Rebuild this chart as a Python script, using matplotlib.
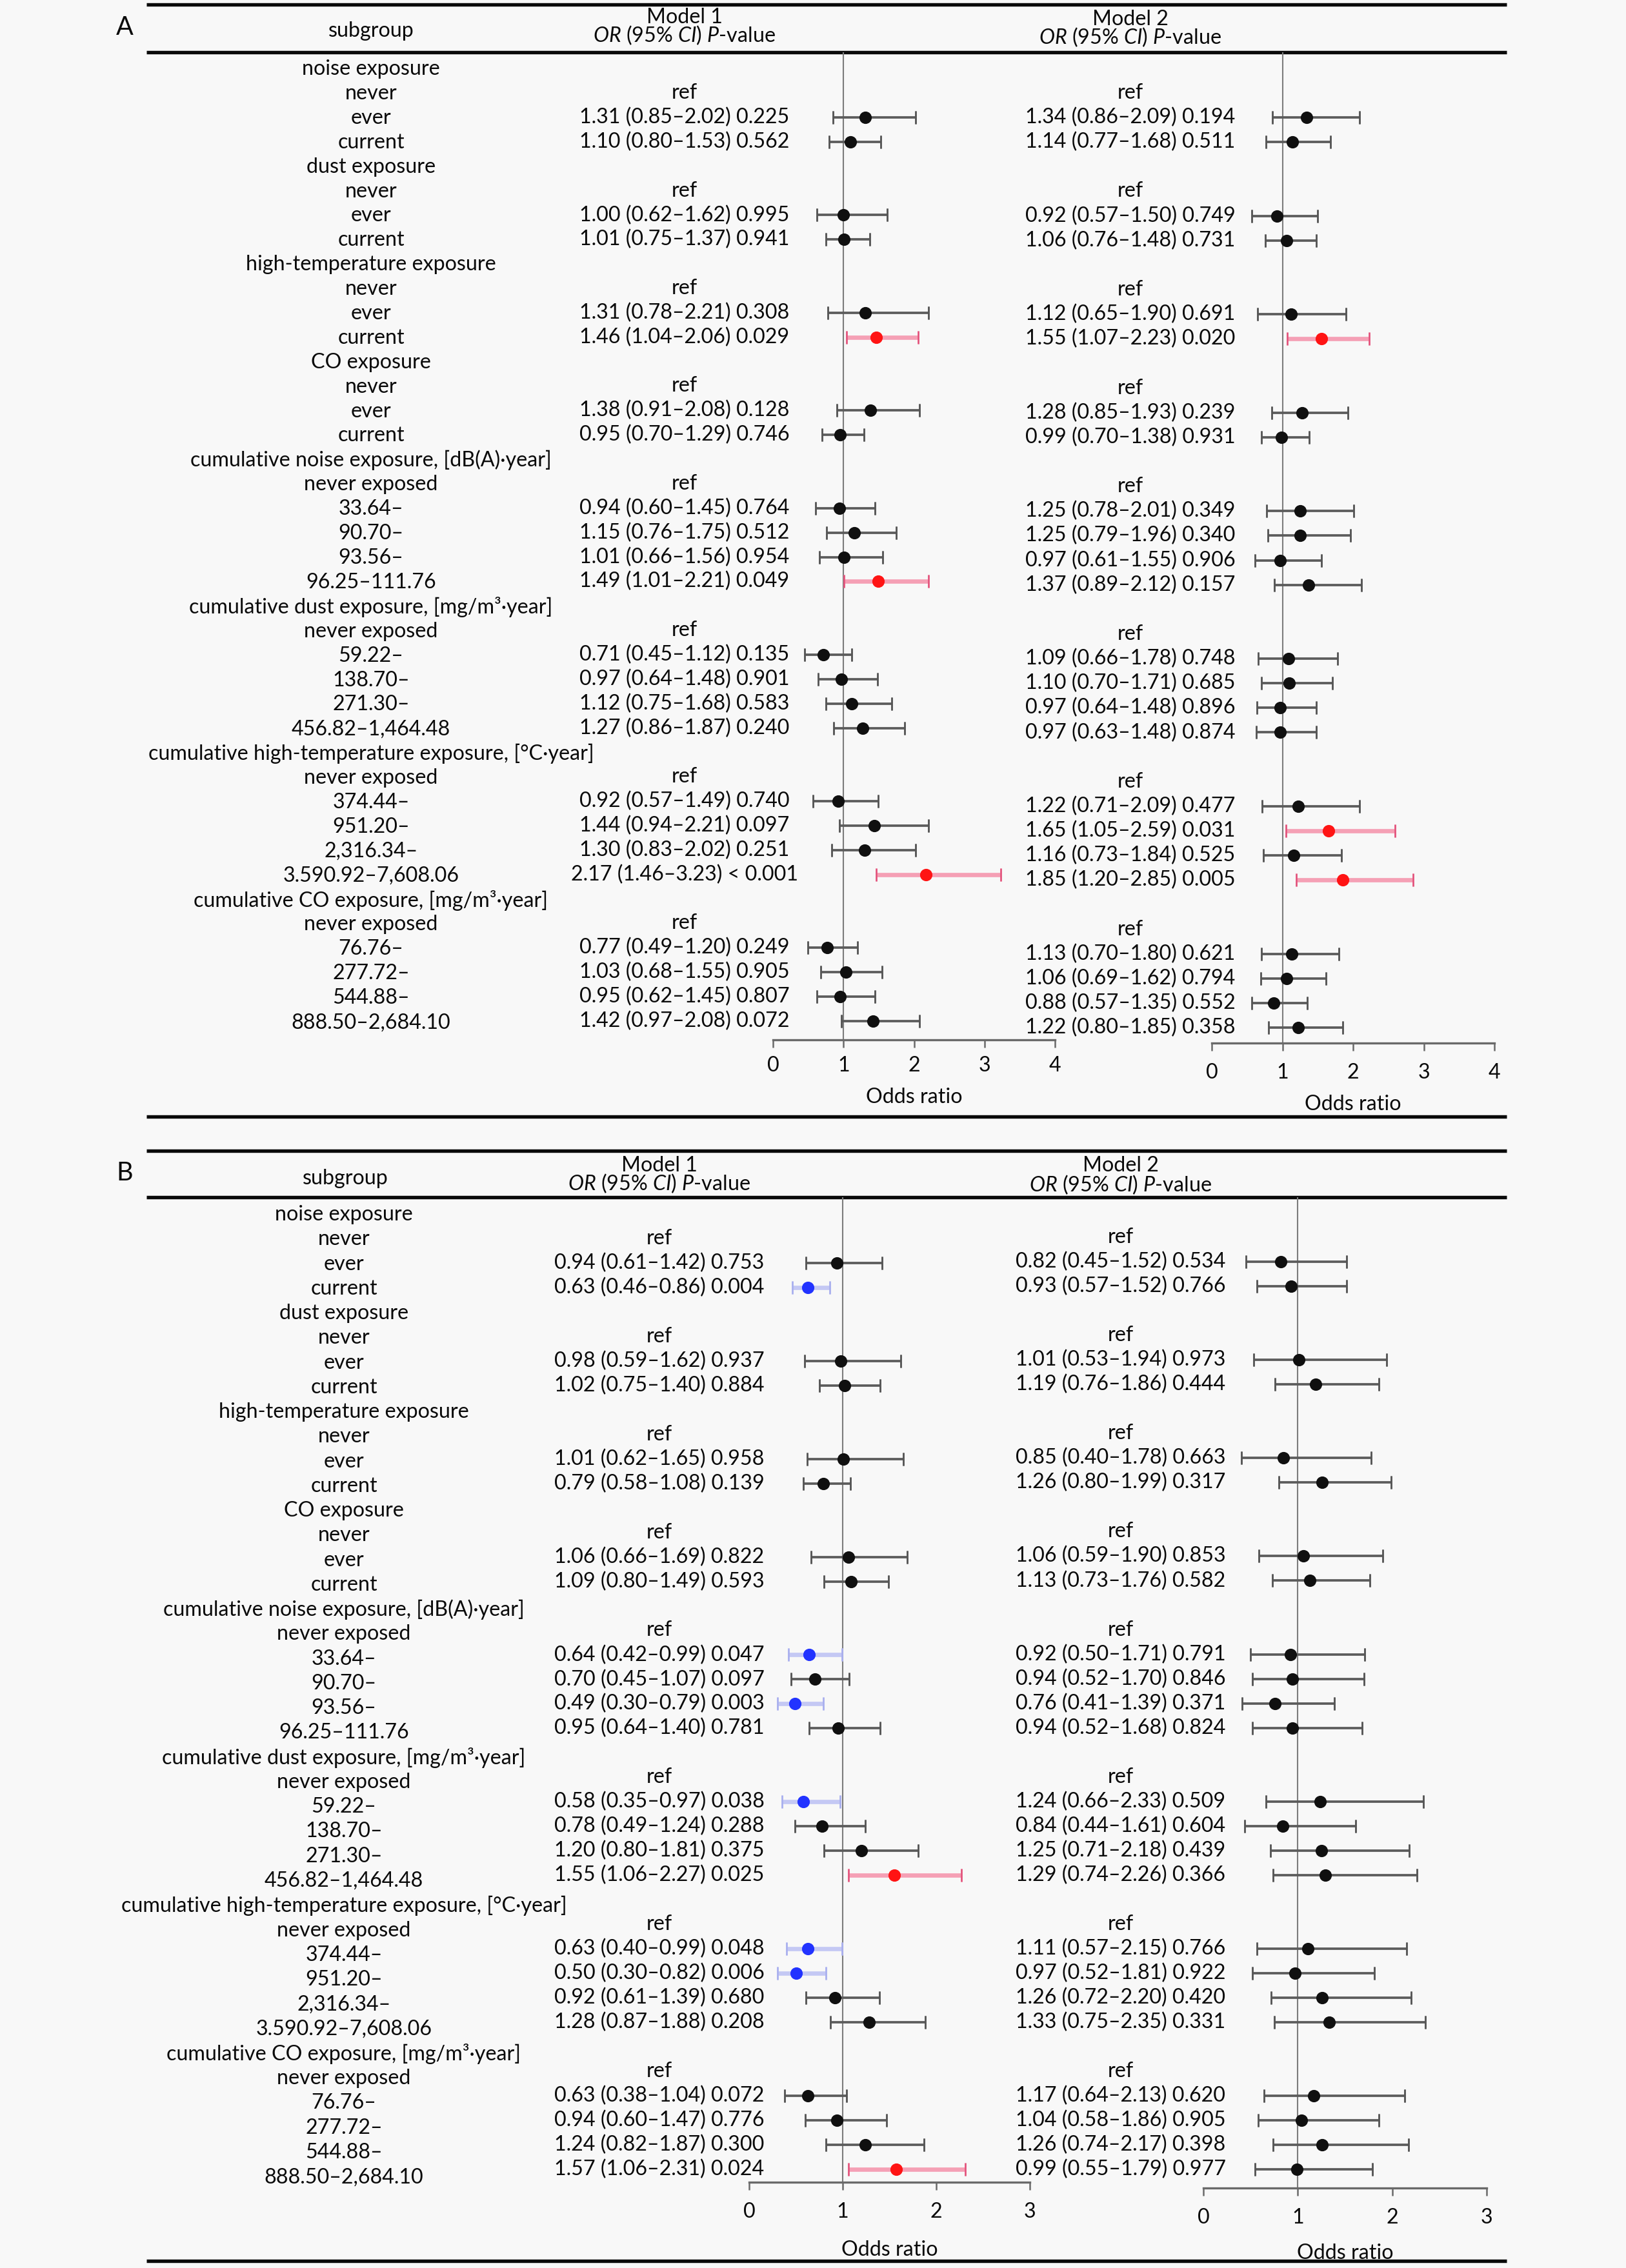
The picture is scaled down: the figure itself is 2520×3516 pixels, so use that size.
import matplotlib
matplotlib.use('Agg')
import matplotlib.pyplot as plt

plt.rcParams['font.family'] = ['Lato', 'DejaVu Sans']
plt.rcParams['mathtext.fontset'] = 'custom'
plt.rcParams['mathtext.rm'] = 'Lato'
plt.rcParams['mathtext.it'] = 'Lato:italic'

# ---------------- data ----------------
group_titles = ["noise exposure", "dust exposure", "high-temperature exposure", "CO exposure",
                "cumulative noise exposure, [dB(A)·year]",
                "cumulative dust exposure, [mg/m³·year]",
                "cumulative high-temperature exposure, [°C·year]",
                "cumulative CO exposure, [mg/m³·year]"]
group_levels = [["never", "ever", "current"],
                ["never", "ever", "current"],
                ["never", "ever", "current"],
                ["never", "ever", "current"],
                ["never exposed", "33.64–", "90.70–", "93.56–", "96.25–111.76"],
                ["never exposed", "59.22–", "138.70–", "271.30–", "456.82–1,464.48"],
                ["never exposed", "374.44–", "951.20–", "2,316.34–", "3.590.92–7,608.06"],
                ["never exposed", "76.76–", "277.72–", "544.88–", "888.50–2,684.10"]]

# Panel A, Model 1
a1_or = [1.31, 1.10, 1.00, 1.01, 1.31, 1.46, 1.38, 0.95, 0.94, 1.15, 1.01, 1.49,
         0.71, 0.97, 1.12, 1.27, 0.92, 1.44, 1.30, 2.17, 0.77, 1.03, 0.95, 1.42]
a1_lo = [0.85, 0.80, 0.62, 0.75, 0.78, 1.04, 0.91, 0.70, 0.60, 0.76, 0.66, 1.01,
         0.45, 0.64, 0.75, 0.86, 0.57, 0.94, 0.83, 1.46, 0.49, 0.68, 0.62, 0.97]
a1_hi = [2.02, 1.53, 1.62, 1.37, 2.21, 2.06, 2.08, 1.29, 1.45, 1.75, 1.56, 2.21,
         1.12, 1.48, 1.68, 1.87, 1.49, 2.21, 2.02, 3.23, 1.20, 1.55, 1.45, 2.08]
a1_p = ["0.225", "0.562", "0.995", "0.941", "0.308", "0.029", "0.128", "0.746",
        "0.764", "0.512", "0.954", "0.049", "0.135", "0.901", "0.583", "0.240",
        "0.740", "0.097", "0.251", "< 0.001", "0.249", "0.905", "0.807", "0.072"]

# Panel A, Model 2
a2_or = [1.34, 1.14, 0.92, 1.06, 1.12, 1.55, 1.28, 0.99, 1.25, 1.25, 0.97, 1.37,
         1.09, 1.10, 0.97, 0.97, 1.22, 1.65, 1.16, 1.85, 1.13, 1.06, 0.88, 1.22]
a2_lo = [0.86, 0.77, 0.57, 0.76, 0.65, 1.07, 0.85, 0.70, 0.78, 0.79, 0.61, 0.89,
         0.66, 0.70, 0.64, 0.63, 0.71, 1.05, 0.73, 1.20, 0.70, 0.69, 0.57, 0.80]
a2_hi = [2.09, 1.68, 1.50, 1.48, 1.90, 2.23, 1.93, 1.38, 2.01, 1.96, 1.55, 2.12,
         1.78, 1.71, 1.48, 1.48, 2.09, 2.59, 1.84, 2.85, 1.80, 1.62, 1.35, 1.85]
a2_p = ["0.194", "0.511", "0.749", "0.731", "0.691", "0.020", "0.239", "0.931",
        "0.349", "0.340", "0.906", "0.157", "0.748", "0.685", "0.896", "0.874",
        "0.477", "0.031", "0.525", "0.005", "0.621", "0.794", "0.552", "0.358"]

# Panel B, Model 1
b1_or = [0.94, 0.63, 0.98, 1.02, 1.01, 0.79, 1.06, 1.09, 0.64, 0.70, 0.49, 0.95,
         0.58, 0.78, 1.20, 1.55, 0.63, 0.50, 0.92, 1.28, 0.63, 0.94, 1.24, 1.57]
b1_lo = [0.61, 0.46, 0.59, 0.75, 0.62, 0.58, 0.66, 0.80, 0.42, 0.45, 0.30, 0.64,
         0.35, 0.49, 0.80, 1.06, 0.40, 0.30, 0.61, 0.87, 0.38, 0.60, 0.82, 1.06]
b1_hi = [1.42, 0.86, 1.62, 1.40, 1.65, 1.08, 1.69, 1.49, 0.99, 1.07, 0.79, 1.40,
         0.97, 1.24, 1.81, 2.27, 0.99, 0.82, 1.39, 1.88, 1.04, 1.47, 1.87, 2.31]
b1_p = ["0.753", "0.004", "0.937", "0.884", "0.958", "0.139", "0.822", "0.593",
        "0.047", "0.097", "0.003", "0.781", "0.038", "0.288", "0.375", "0.025",
        "0.048", "0.006", "0.680", "0.208", "0.072", "0.776", "0.300", "0.024"]

# Panel B, Model 2
b2_or = [0.82, 0.93, 1.01, 1.19, 0.85, 1.26, 1.06, 1.13, 0.92, 0.94, 0.76, 0.94,
         1.24, 0.84, 1.25, 1.29, 1.11, 0.97, 1.26, 1.33, 1.17, 1.04, 1.26, 0.99]
b2_lo = [0.45, 0.57, 0.53, 0.76, 0.40, 0.80, 0.59, 0.73, 0.50, 0.52, 0.41, 0.52,
         0.66, 0.44, 0.71, 0.74, 0.57, 0.52, 0.72, 0.75, 0.64, 0.58, 0.74, 0.55]
b2_hi = [1.52, 1.52, 1.94, 1.86, 1.78, 1.99, 1.90, 1.76, 1.71, 1.70, 1.39, 1.68,
         2.33, 1.61, 2.18, 2.26, 2.15, 1.81, 2.20, 2.35, 2.13, 1.86, 2.17, 1.79]
b2_p = ["0.534", "0.766", "0.973", "0.444", "0.663", "0.317", "0.853", "0.582",
        "0.791", "0.846", "0.371", "0.824", "0.509", "0.604", "0.439", "0.366",
        "0.766", "0.922", "0.420", "0.331", "0.620", "0.905", "0.398", "0.977"]

# ---------------- layout ----------------
W, H, DPI = 2520, 3516, 300
BG = '#f8f8f8'
FS = 7.75
TXT = '#0a0a0a'

fig = plt.figure(figsize=(W / DPI, H / DPI), dpi=DPI, facecolor=BG)
bg = fig.add_axes([0, 0, 1, 1])
bg.set_xlim(0, W)
bg.set_ylim(H, 0)
bg.axis('off')

# build rows
rows = []  # (label, kind) kind: 'head', 'ref', 'est'
for t, levs in zip(group_titles, group_levels):
    rows.append((t, 'head'))
    for j, lv in enumerate(levs):
        rows.append((lv, 'ref' if j == 0 else 'est'))

HEADER2 = r"$\mathit{OR}$ (95% $\mathit{CI}$) $\mathit{P}$-value"


def is_sig(p):
    return p.strip().startswith('<') or float(p) < 0.05


def forest(x0, x1, xmax, top, axis_y, ors, los, his, ps, ys, pad, labelpad):
    ax = fig.add_axes([x0 / W, 1 - axis_y / H, (x1 - x0) / W, (axis_y - top) / H])
    ax.set_xlim(0, xmax)
    ax.set_ylim(axis_y, top)
    ax.patch.set_alpha(0)
    for s in ['top', 'left', 'right']:
        ax.spines[s].set_visible(False)
    ax.spines['bottom'].set_color('#6a6a6a')
    ax.spines['bottom'].set_linewidth(0.8)
    ax.set_yticks([])
    ax.set_xticks(list(range(xmax + 1)))
    ax.tick_params(axis='x', direction='out', length=2.9, width=0.6, color='#6a6a6a',
                   labelsize=FS, labelcolor=TXT, pad=pad)
    ax.set_xlabel('Odds ratio', fontsize=FS, color=TXT, labelpad=labelpad)
    ax.axvline(1, color='#7c7c7c', lw=0.5, zorder=1)
    for o, lo, hi, p, y in zip(ors, los, his, ps, ys):
        if is_sig(p) and o > 1:
            dot, bar, cap, lw = '#ff1414', '#f5a0b5', '#e2507a', 1.6
        elif is_sig(p):
            dot, bar, cap, lw = '#2233ff', '#c4c8f4', '#a8aeee', 1.6
        else:
            dot, bar, cap, lw = '#101010', '#5c5c5c', '#555555', 0.9
        ax.errorbar([o], [y], xerr=[[o - lo], [hi - o]], fmt='none', ecolor=bar,
                    elinewidth=lw, capsize=2.3, capthick=0.6, zorder=2, clip_on=False)
        ax.plot([lo, hi], [y, y], linestyle='none', marker='|', ms=4.6, mew=0.6,
                color=cap, zorder=2, clip_on=False)
        ax.plot([o], [y], 'o', ms=3.6, color=dot, mec=dot, zorder=3, clip_on=False)
    return ax


panels = [
    dict(letter='A', letter_xy=(193, 42), rules=[7, 81, 1731],
         sub_xy=(575, 48), m1_cx=1061, m2_cx=1752, m1_head=(27, 55), m2_head=(30, 58),
         lab=(107, 37.9), v1=(106.3, 37.86), v2=(105.7, 38.14), cx_lab=575,
         f1=dict(x0=1198, x1=1635, xmax=4, axis_y=1612, pad=3.0, labelpad=4.6),
         f2=dict(x0=1878, x1=2316, xmax=4, axis_y=1617, pad=4.5, labelpad=4.6),
         top=81,
         d1=(a1_or, a1_lo, a1_hi, a1_p), d2=(a2_or, a2_lo, a2_hi, a2_p)),
    dict(letter='B', letter_xy=(193, 1818), rules=[1784, 1856, 3505],
         sub_xy=(535, 1827), m1_cx=1022, m2_cx=1737, m1_head=(1807, 1835), m2_head=(1807, 1837),
         lab=(1883, 38.26), v1=(1882, 37.97), v2=(1880, 38.03), cx_lab=533,
         f1=dict(x0=1161, x1=1596, xmax=3, axis_y=3383, pad=4.5, labelpad=7.0),
         f2=dict(x0=1865, x1=2304, xmax=3, axis_y=3392, pad=4.5, labelpad=6.0),
         top=1856,
         d1=(b1_or, b1_lo, b1_hi, b1_p), d2=(b2_or, b2_lo, b2_hi, b2_p)),
]

for P in panels:
    # rules
    for y in P['rules']:
        bg.plot([227, 2335], [y, y], color='#0a0a0a', lw=1.3, solid_capstyle='butt')
    bg.text(*P['letter_xy'], P['letter'], fontsize=9.5, ha='center', va='center', color=TXT)
    bg.text(*P['sub_xy'], 'subgroup', fontsize=FS, ha='center', va='center', color=TXT)
    bg.text(P['m1_cx'], P['m1_head'][0], 'Model 1', fontsize=FS, ha='center', va='center', color=TXT)
    bg.text(P['m1_cx'], P['m1_head'][1], HEADER2, fontsize=FS, ha='center', va='center', color=TXT)
    bg.text(P['m2_cx'], P['m2_head'][0], 'Model 2', fontsize=FS, ha='center', va='center', color=TXT)
    bg.text(P['m2_cx'], P['m2_head'][1], HEADER2, fontsize=FS, ha='center', va='center', color=TXT)

    ly0, ldy = P['lab']
    cols = [(P['v1'], P['m1_cx'], P['d1'], P['f1']), (P['v2'], P['m2_cx'], P['d2'], P['f2'])]
    for i, (lab, kind) in enumerate(rows):
        bg.text(P['cx_lab'], ly0 + i * ldy, lab, fontsize=FS, ha='center', va='center', color=TXT)

    for (vy0, vdy), cx, (ors, los, his, ps), f in cols:
        k = 0
        ys = []
        for i, (lab, kind) in enumerate(rows):
            y = vy0 + i * vdy
            if kind == 'ref':
                bg.text(cx, y, 'ref', fontsize=FS, ha='center', va='center', color=TXT)
            elif kind == 'est':
                s = f"{ors[k]:.2f} ({los[k]:.2f}–{his[k]:.2f}) {ps[k]}"
                bg.text(cx, y, s, fontsize=FS, ha='center', va='center', color=TXT)
                ys.append(y)
                k += 1
        forest(f['x0'], f['x1'], f['xmax'], P['top'], f['axis_y'], ors, los, his, ps, ys,
               f['pad'], f['labelpad'])

fig.savefig('out.png', dpi=DPI, facecolor=BG)
